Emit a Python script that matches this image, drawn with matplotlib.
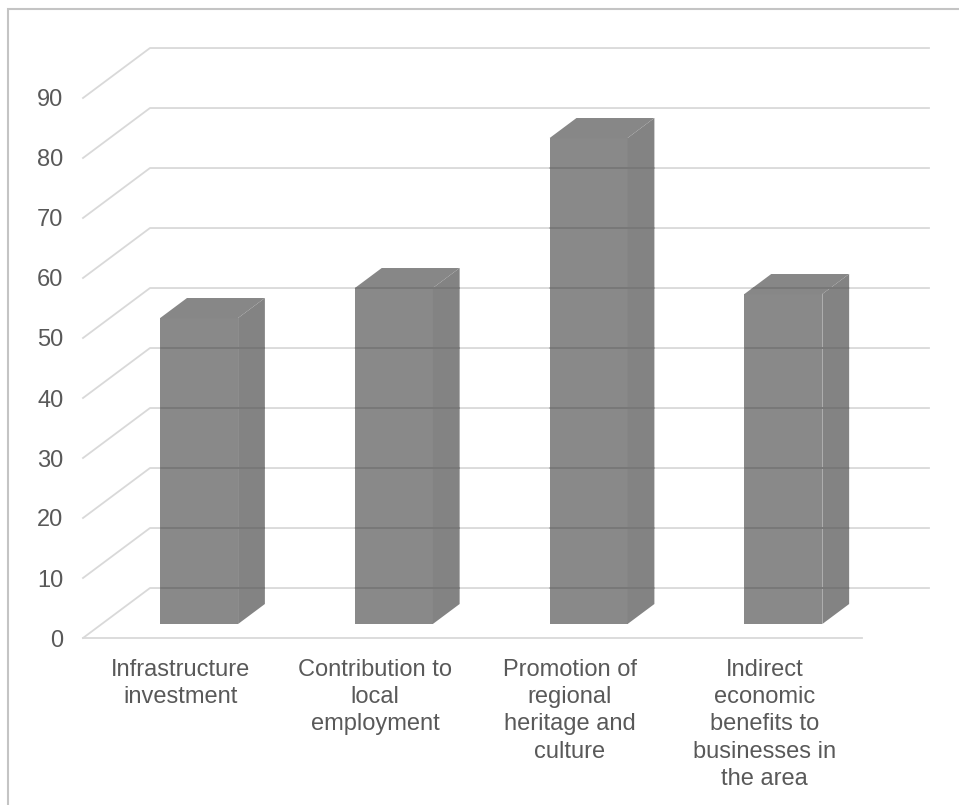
import matplotlib
matplotlib.use("Agg")
from matplotlib import pyplot as plt
from matplotlib.patches import Polygon, Rectangle
import numpy as np

plt.rcParams['font.family'] = ['Liberation Sans', 'DejaVu Sans']

# data
categories = ["Infrastructure\ninvestment",
              "Contribution to\nlocal\nemployment",
              "Promotion of\nregional\nheritage and\nculture",
              "Indirect\neconomic\nbenefits to\nbusinesses in\nthe area"]
values = [51, 56, 81, 55]
yticks = [0, 10, 20, 30, 40, 50, 60, 70, 80, 90]

# fake 3d depth (wall depth in data units)
DX, DY = 0.344, 8.33
d0, d1 = 0.28, 0.68   # bar front / back depth fraction
bw = 0.4
txt = '#595959'
grid = '#d9d9d9'

fig = plt.figure(figsize=(9.59, 8.05), dpi=100)
ax = fig.add_axes([83 / 959, 167 / 805, 846 / 959, 600 / 805])
ax.set_xlim(-0.5, 3.5 + DX)
ax.set_ylim(0, 100)
for s in ax.spines.values():
    s.set_visible(False)

# gridlines: left wall diagonal + back wall
for v in yticks:
    ax.plot([-0.5, -0.5 + DX, 3.5 + DX], [v, v + DY, v + DY],
            color=grid, lw=1.3, zorder=1, clip_on=False)
ax.plot([-0.5, 3.5], [0, 0], color=grid, lw=1.3, zorder=1, clip_on=False)

x = np.arange(len(values))
fx = d0 * DX
fy = d0 * DY
sx = (d1 - d0) * DX
sy = (d1 - d0) * DY

# front faces
ax.bar(x + fx, values, width=bw, bottom=fy, color='#898989',
       linewidth=0, zorder=3)
for xi, v in zip(x, values):
    r = xi + fx + bw / 2
    l = xi + fx - bw / 2
    top = v + fy
    side = Polygon([(r, fy), (r + sx, fy + sy), (r + sx, top + sy), (r, top)],
                   closed=True, facecolor='#838383', lw=0, zorder=3)
    lid = Polygon([(l, top), (l + sx, top + sy), (r + sx, top + sy), (r, top)],
                  closed=True, facecolor='#878787', lw=0, zorder=3)
    ax.add_patch(side)
    ax.add_patch(lid)
    # back gridlines showing through the (semi transparent) bar
    outline = Polygon([(l, fy), (r, fy), (r + sx, fy + sy), (r + sx, top + sy),
                       (l + sx, top + sy), (l, top)], closed=True,
                      transform=ax.transData)
    for g in yticks:
        ln, = ax.plot([-0.5 + DX, 3.5 + DX], [g + DY, g + DY],
                      color='#777777', lw=1.3, zorder=4)
        ln.set_clip_path(outline)

ax.set_yticks(yticks)
ax.set_yticklabels([str(v) for v in yticks])
ax.set_xticks(x)
ax.set_xticklabels(categories, linespacing=1.31)
ax.tick_params(axis='y', length=0, pad=14, labelsize=17, labelcolor=txt)
ax.tick_params(axis='x', length=0, pad=15, labelsize=17, labelcolor=txt)

# outer chart border
fig.add_artist(Rectangle((8 / 959, -0.02), 1.1, 1 - 9 / 805 + 0.02,
                         transform=fig.transFigure, fill=False,
                         edgecolor='#c4c4c4', lw=1.5))

fig.savefig("out.png", dpi=100)
